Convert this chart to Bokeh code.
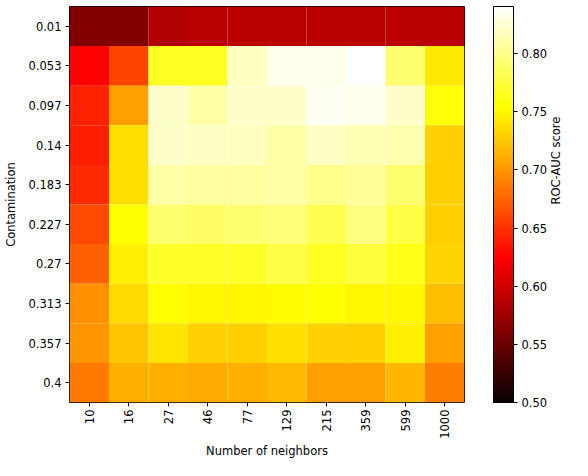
import math
from bokeh.plotting import figure
from bokeh.models import (ColumnDataSource, FactorRange, LinearColorMapper, ColorBar,
                          FixedTicker, PrintfTickFormatter, LinearAxis)
from bokeh.embed import file_html
from bokeh.resources import INLINE

neighbors = ["10", "16", "27", "46", "77", "129", "215", "359", "599", "1000"]
contamination = ["0.01", "0.053", "0.097", "0.14", "0.183", "0.227", "0.27", "0.313", "0.357", "0.4"]

# ROC-AUC scores, one list per contamination level (columns = neighbors)
row_0_01 = [0.560, 0.560, 0.584, 0.590, 0.590, 0.590, 0.590, 0.590, 0.590, 0.590]
row_0_053 = [0.624, 0.659, 0.765, 0.765, 0.819, 0.833, 0.833, 0.840, 0.792, 0.743]
row_0_097 = [0.641, 0.706, 0.823, 0.810, 0.823, 0.823, 0.836, 0.833, 0.822, 0.756]
row_0_14 = [0.640, 0.738, 0.822, 0.820, 0.819, 0.810, 0.820, 0.815, 0.813, 0.731]
row_0_183 = [0.646, 0.738, 0.810, 0.808, 0.808, 0.810, 0.800, 0.805, 0.790, 0.729]
row_0_227 = [0.661, 0.754, 0.790, 0.788, 0.792, 0.795, 0.781, 0.797, 0.777, 0.730]
row_0_27 = [0.673, 0.745, 0.768, 0.768, 0.768, 0.779, 0.765, 0.774, 0.762, 0.732]
row_0_313 = [0.698, 0.735, 0.754, 0.750, 0.750, 0.752, 0.754, 0.750, 0.750, 0.720]
row_0_357 = [0.700, 0.724, 0.740, 0.731, 0.729, 0.738, 0.731, 0.729, 0.745, 0.706]
row_0_4 = [0.687, 0.714, 0.714, 0.711, 0.714, 0.719, 0.706, 0.706, 0.717, 0.688]

rows = [row_0_01, row_0_053, row_0_097, row_0_14, row_0_183,
        row_0_227, row_0_27, row_0_313, row_0_357, row_0_4]

cbar_ticks = [0.50, 0.55, 0.60, 0.65, 0.70, 0.75, 0.80]
vmin, vmax = 0.50, 0.8405


def hot(t):
    r = min(1.0, 0.0416 + t / 0.365079 * (1 - 0.0416))
    g = min(1.0, max(0.0, (t - 0.365079) / (0.746032 - 0.365079)))
    b = min(1.0, max(0.0, (t - 0.746032) / (1 - 0.746032)))
    return "#%02x%02x%02x" % (round(r * 255), round(g * 255), round(b * 255))


palette = [hot(i / 255) for i in range(256)]

xs, ys, vs = [], [], []
for c, row in zip(contamination, rows):
    for n, v in zip(neighbors, row):
        xs.append(n)
        ys.append(c)
        vs.append(v)
source = ColumnDataSource(dict(x=xs, y=ys, v=vs))

mapper = LinearColorMapper(palette=palette, low=vmin, high=vmax)

FONT = "DejaVu Sans"
FS = "11.5px"

p = figure(width=572, height=460, output_backend="svg", toolbar_location=None,
           x_range=FactorRange(factors=neighbors, range_padding=0),
           y_range=FactorRange(factors=list(reversed(contamination)), range_padding=0),
           min_border_left=66, min_border_right=104, min_border_top=6, min_border_bottom=51)

p.rect(x="x", y="y", width=1, height=1, source=source,
       fill_color={"field": "v", "transform": mapper}, line_color=None)

p.grid.grid_line_color = None
p.outline_line_color = "black"
p.outline_line_width = 1
p.background_fill_color = "white"

for ax in (p.xaxis[0], p.yaxis[0]):
    ax.axis_line_color = None
    ax.major_tick_in = 0
    ax.major_tick_out = 4
    ax.major_tick_line_color = "black"
    ax.minor_tick_line_color = None
    ax.major_label_text_font = FONT
    ax.major_label_text_font_size = FS
    ax.major_label_text_color = "black"
    ax.axis_label_text_font = FONT
    ax.axis_label_text_font_size = FS
    ax.axis_label_text_font_style = "normal"
    ax.axis_label_text_color = "black"

p.xaxis.axis_label = "Number of neighbors"
p.yaxis.axis_label = "Contamination"
p.xaxis.major_label_orientation = math.pi / 2
p.xaxis.major_label_standoff = 3
p.xaxis.axis_label_standoff = 2
p.yaxis.major_label_standoff = 4
p.yaxis.axis_label_standoff = 8

cb = ColorBar(color_mapper=mapper, width=20, padding=0, margin=0,
              location=(29, 0),
              ticker=FixedTicker(ticks=cbar_ticks),
              formatter=PrintfTickFormatter(format="%.2f"),
              major_tick_in=0, major_tick_out=4, major_tick_line_color="black",
              minor_tick_line_color=None,
              major_label_text_font=FONT, major_label_text_font_size=FS,
              major_label_text_color="black",
              bar_line_color="black", border_line_color=None,
              background_fill_color=None, label_standoff=4)
p.add_layout(cb, "right")

# colour-bar title as the label of an otherwise empty axis on the right
cb_axis = LinearAxis(axis_label="ROC-AUC score", ticker=FixedTicker(ticks=[]),
                     axis_line_color=None, major_tick_line_color=None,
                     minor_tick_line_color=None, major_tick_in=0, major_tick_out=0,
                     major_label_standoff=0, axis_label_standoff=5,
                     axis_label_text_font=FONT, axis_label_text_font_size=FS,
                     axis_label_text_font_style="normal",
                     axis_label_text_color="black")
try:
    cb_axis.axis_label_orientation = math.pi / 2
except Exception:
    pass
p.add_layout(cb_axis, "right")

open("out.html", "w").write(file_html(p, INLINE))
